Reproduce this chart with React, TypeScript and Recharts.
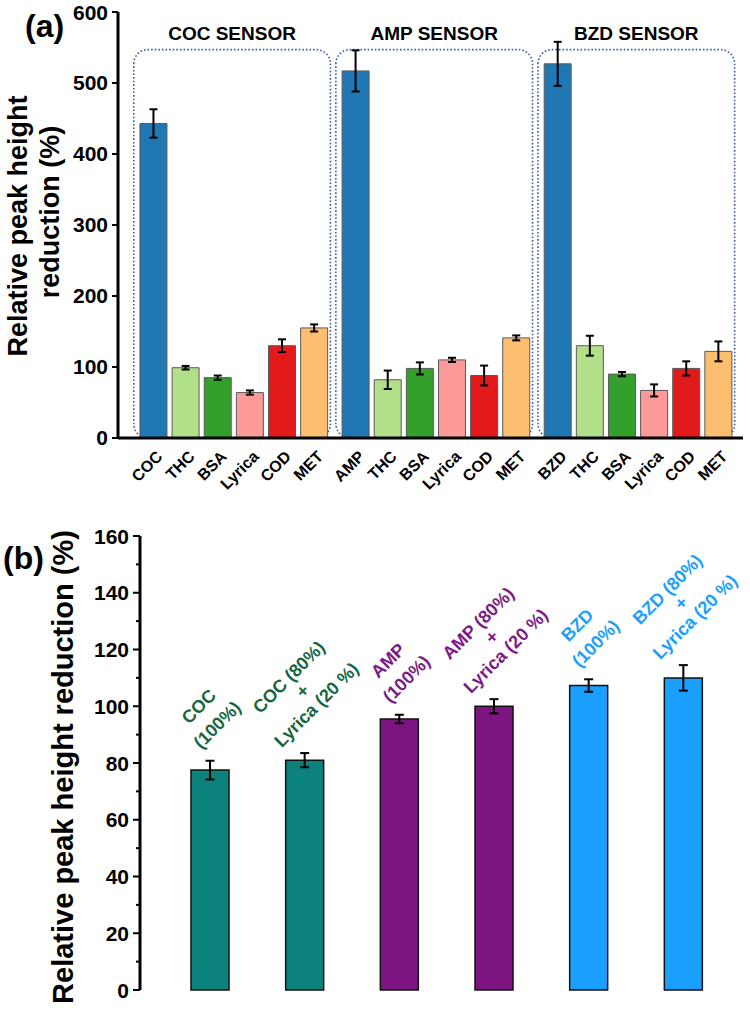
import { BarChart, Bar, XAxis, YAxis, ErrorBar, Cell, ReferenceArea, LabelList } from "recharts";

const FONT = "'Liberation Sans', Arial, sans-serif";

// panel (a): sensor selectivity
const sensors = ["COC", "AMP", "BZD"];
const interferents = ["THC", "BSA", "Lyrica", "COD", "MET"];
const cocValues = [443, 99, 85, 64, 130, 155];
const cocErrors = [20, 2.5, 3, 3, 9, 5];
const ampValues = [517, 82, 98, 110, 88, 141];
const ampErrors = [29, 13, 8.5, 3, 14, 3.5];
const bzdValues = [527, 130, 90, 67, 98, 122];
const bzdErrors = [31, 14, 3, 8.5, 10, 14];
const yTicksA = [0, 100, 200, 300, 400, 500, 600];

// panel (b): mixtures
const mixLabels = [
  ["COC", "(100%)"],
  ["COC (80%)", "+", "Lyrica (20 %)"],
  ["AMP", "(100%)"],
  ["AMP (80%)", "+", "Lyrica (20 %)"],
  ["BZD", "(100%)"],
  ["BZD (80%)", "+", "Lyrica (20 %)"],
];
const mixValues = [77.5, 81, 95.5, 100, 107.3, 110];
const mixErrors = [3.3, 2.5, 1.5, 2.5, 2.2, 4.5];
const yTicksB = [0, 10, 20, 30, 40, 50, 60, 70, 80, 90, 100, 110, 120, 130, 140, 150, 160];

const barColors = ["#1f78b4", "#b2df8a", "#33a02c", "#fb9a99", "#e31a1c", "#fdbf6f"];
const mixColors = ["#0b837c", "#7c1580", "#1a9fff"];
const mixTextColors = ["#17663f", "#7c1a88", "#1a9fff"];

// layout of groups on the numeric x axis (one unit = one bar slot)
const GROUP_STEP = 6.29;
const X_DOMAIN: [number, number] = [-1.09, 2 * GROUP_STEP + 5.78];

const valueSets = [cocValues, ampValues, bzdValues];
const errorSets = [cocErrors, ampErrors, bzdErrors];

const dataA = valueSets.flatMap((vals, g) =>
  vals.map((v, i) => ({
    pos: g * GROUP_STEP + i,
    value: v,
    err: errorSets[g][i],
    name: i === 0 ? sensors[g] : interferents[i - 1],
    colorIdx: i,
  }))
);

const dataB = mixValues.map((v, i) => ({
  name: mixLabels[i].join(" "),
  value: v,
  err: mixErrors[i],
  lines: mixLabels[i],
  group: Math.floor(i / 2),
}));

function labelFor(v: number) {
  const hit = dataA.find((d) => Math.abs(d.pos - v) < 0.01);
  return hit ? hit.name : "";
}

function TickA(props: any) {
  const { x, y, payload } = props;
  const ax = x + 2;
  const ay = y + 11;
  return (
    <text
      x={ax}
      y={ay}
      dy="0.75em"
      textAnchor="end"
      transform={`rotate(-45, ${ax}, ${ay})`}
      fontSize={16}
      fontWeight={700}
      fontFamily={FONT}
      fill="#000"
    >
      {labelFor(payload.value)}
    </text>
  );
}

function MixLabel(props: any) {
  const { x, y, width, height, value, index } = props;
  const d = dataB[index];
  if (!d) return null;
  const errTop = y - (d.err * height) / value;
  const n = d.lines.length;
  const gap = n === 2 ? 26 : 19.5;
  const cx = x + width / 2 - 2;
  const cy = errTop - (n === 2 ? 45 : 62);
  return (
    <text
      transform={`rotate(-45, ${cx}, ${cy})`}
      textAnchor="middle"
      fontSize={18}
      fontWeight={700}
      fontFamily={FONT}
      fill={mixTextColors[d.group]}
    >
      {d.lines.map((line: string, k: number) => (
        <tspan key={k} x={cx} y={cy + (k - (n - 1) / 2) * gap + 6}>
          {line}
        </tspan>
      ))}
    </text>
  );
}

function TickB(props: any) {
  const { x, y, payload } = props;
  const major = payload.value % 20 === 0;
  return (
    <g>
      <line x1={x} x2={x - (major ? 7 : 4)} y1={y} y2={y} stroke="#000" strokeWidth={2} />
      {major && (
        <text x={x - 11} y={y} dy="0.36em" textAnchor="end" fontSize={21} fontWeight={700} fontFamily={FONT} fill="#000">
          {payload.value}
        </text>
      )}
    </g>
  );
}

const axisLine = { stroke: "#000", strokeWidth: 3 };

export default function App() {
  return (
    <div style={{ position: "absolute", left: 0, top: 0, width: 750, height: 1010, background: "#fff", fontFamily: FONT }}>
      <div style={{ position: "absolute", left: 25, top: 8, fontSize: 32, fontWeight: 700, lineHeight: "36px" }}>(a)</div>
      <div style={{ position: "absolute", left: 3, top: 540, fontSize: 32, fontWeight: 700, lineHeight: "36px" }}>(b)</div>

      <div style={{ position: "absolute", left: 18, top: 226, transform: "translate(-50%, -50%) rotate(-90deg)", whiteSpace: "nowrap", fontSize: 27, fontWeight: 700, lineHeight: "30px" }}>
        Relative peak height
      </div>
      <div style={{ position: "absolute", left: 50, top: 212, transform: "translate(-50%, -50%) rotate(-90deg)", whiteSpace: "nowrap", fontSize: 27, fontWeight: 700, lineHeight: "30px" }}>
        reduction (%)
      </div>
      <div style={{ position: "absolute", left: 63, top: 767, transform: "translate(-50%, -50%) rotate(-90deg)", whiteSpace: "nowrap", fontSize: 29, fontWeight: 700, lineHeight: "32px" }}>
        Relative peak height reduction (%)
      </div>

      <div style={{ position: "absolute", left: 0, top: 0 }}>
        <BarChart width={750} height={520} data={dataA} margin={{ top: 12, right: 7, left: 0, bottom: 0 }}>
          {sensors.map((s, g) => (
            <ReferenceArea
              key={s}
              x1={g * GROUP_STEP - 0.6}
              x2={g * GROUP_STEP + 5.52}
              y1={0}
              y2={547}
              fill="none"
              stroke="#3b5da6"
              strokeWidth={1.6}
              strokeDasharray="1.6 2"
              radius={14}
              label={{ value: `${s} SENSOR`, position: "top", offset: 10, fill: "#000", fontSize: 19, fontWeight: 700, fontFamily: FONT }}
            />
          ))}
          <XAxis
            dataKey="pos"
            type="number"
            domain={X_DOMAIN}
            ticks={dataA.map((d) => d.pos)}
            interval={0}
            tickLine={false}
            tickSize={0}
            tickMargin={0}
            axisLine={axisLine}
            height={82}
            tick={<TickA />}
          />
          <XAxis xAxisId="top" orientation="top" type="number" domain={[0, 1]} tick={false} tickLine={false} axisLine={axisLine} height={0} />
          <YAxis
            domain={[0, 600]}
            ticks={yTicksA}
            width={118}
            axisLine={axisLine}
            tickLine={{ stroke: "#000", strokeWidth: 2 }}
            tickSize={6}
            tickMargin={4}
            tick={{ fontSize: 21, fontWeight: 700, fill: "#000", fontFamily: FONT }}
          />
          <YAxis yAxisId="right" orientation="right" domain={[0, 1]} tick={false} tickLine={false} axisLine={axisLine} width={0} />
          <Bar dataKey="value" barSize={27} stroke="#5a5a5a" strokeWidth={1} isAnimationActive={false}>
            {dataA.map((d, i) => (
              <Cell key={i} fill={barColors[d.colorIdx]} />
            ))}
            <ErrorBar dataKey="err" width={4} stroke="#000" strokeWidth={2} direction="y" isAnimationActive={false} />
          </Bar>
        </BarChart>
      </div>

      <div style={{ position: "absolute", left: 0, top: 500 }}>
        <BarChart width={750} height={510} data={dataB} margin={{ top: 36, right: 7, left: 0, bottom: 20 }}>
          <XAxis dataKey="name" tick={false} tickLine={false} axisLine={axisLine} height={0} padding={{ left: 23, right: 12 }} />
          <XAxis xAxisId="top" orientation="top" type="number" domain={[0, 1]} tick={false} tickLine={false} axisLine={axisLine} height={0} />
          <YAxis
            domain={[0, 160]}
            ticks={yTicksB}
            interval={0}
            width={140}
            axisLine={axisLine}
            tickLine={false}
            tickSize={0}
            tickMargin={0}
            tick={<TickB />}
          />
          <YAxis yAxisId="right" orientation="right" domain={[0, 1]} tick={false} tickLine={false} axisLine={axisLine} width={0} />
          <Bar dataKey="value" barSize={38} stroke="#111" strokeWidth={1.5} isAnimationActive={false}>
            {dataB.map((d, i) => (
              <Cell key={i} fill={mixColors[d.group]} />
            ))}
            <ErrorBar dataKey="err" width={4.5} stroke="#000" strokeWidth={2} direction="y" isAnimationActive={false} />
            <LabelList dataKey="value" content={<MixLabel />} />
          </Bar>
        </BarChart>
      </div>
    </div>
  );
}
